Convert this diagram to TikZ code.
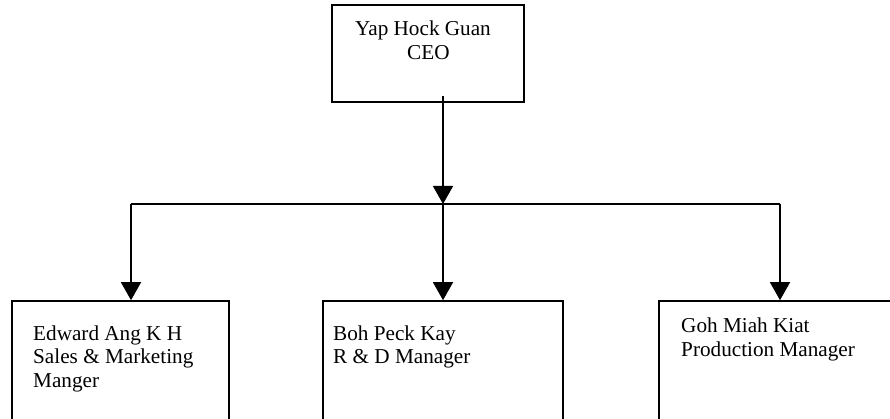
\documentclass[tikz,border=0pt]{standalone}
\usepackage{fontspec}
\setmainfont{Liberation Serif}
\usetikzlibrary{arrows.meta}
\begin{document}
\begin{tikzpicture}[x=1pt,y=-1pt,
  box/.style={draw,line width=1.6pt,rectangle,inner sep=0pt},
  lbl/.style={anchor=base west,inner sep=0pt,font=\fontsize{21.2}{24}\selectfont},
  conn/.style={line width=1.4pt},
  arr/.style={conn,-{Triangle[width=20pt,length=18pt]}}]
\useasboundingbox (0,0) rectangle (890,419);
\clip (0,0) rectangle (890,419);
\fill[white] (0,0) rectangle (890,419);
% boxes
\node[box,minimum width=192pt,minimum height=97pt] (ceo) at (428,53.5) {};
\node[box,minimum width=217pt,minimum height=160pt] (sales) at (120.5,381) {};
\node[box,minimum width=240pt,minimum height=160pt] (rd) at (443,381) {};
\node[box,minimum width=250pt,minimum height=160pt] (prod) at (784,381) {};
% texts
\node[lbl] (t1) at (355,36) {Yap Hock Guan};
\node[lbl] (t2) at (407,60) {CEO};
\node[lbl] (s1) at (33,340) {Edward Ang K H};
\node[lbl] (s2) at (33,363.5) {Sales \& Marketing};
\node[lbl] (s3) at (33,387) {Manger};
\node[lbl] (r1) at (333,340) {Boh Peck Kay};
\node[lbl] (r2) at (333,363.5) {R \& D Manager};
\node[lbl] (p1) at (681,332) {Goh Miah Kiat};
\node[lbl] (p2) at (681,356) {Production Manager};
% connectors
\coordinate (top) at (443,96);
\coordinate (jm) at (443,204);
\coordinate (jl) at (131,204);
\coordinate (jr) at (780,204);
\draw[arr] (top) -- (jm);
\draw[conn] (jl) -- (jr);
\draw[arr] (jl) -- (jl |- sales.north);
\draw[arr] (jm) -- (jm |- rd.north);
\draw[arr] (jr) -- (jr |- prod.north);
\end{tikzpicture}
\end{document}
